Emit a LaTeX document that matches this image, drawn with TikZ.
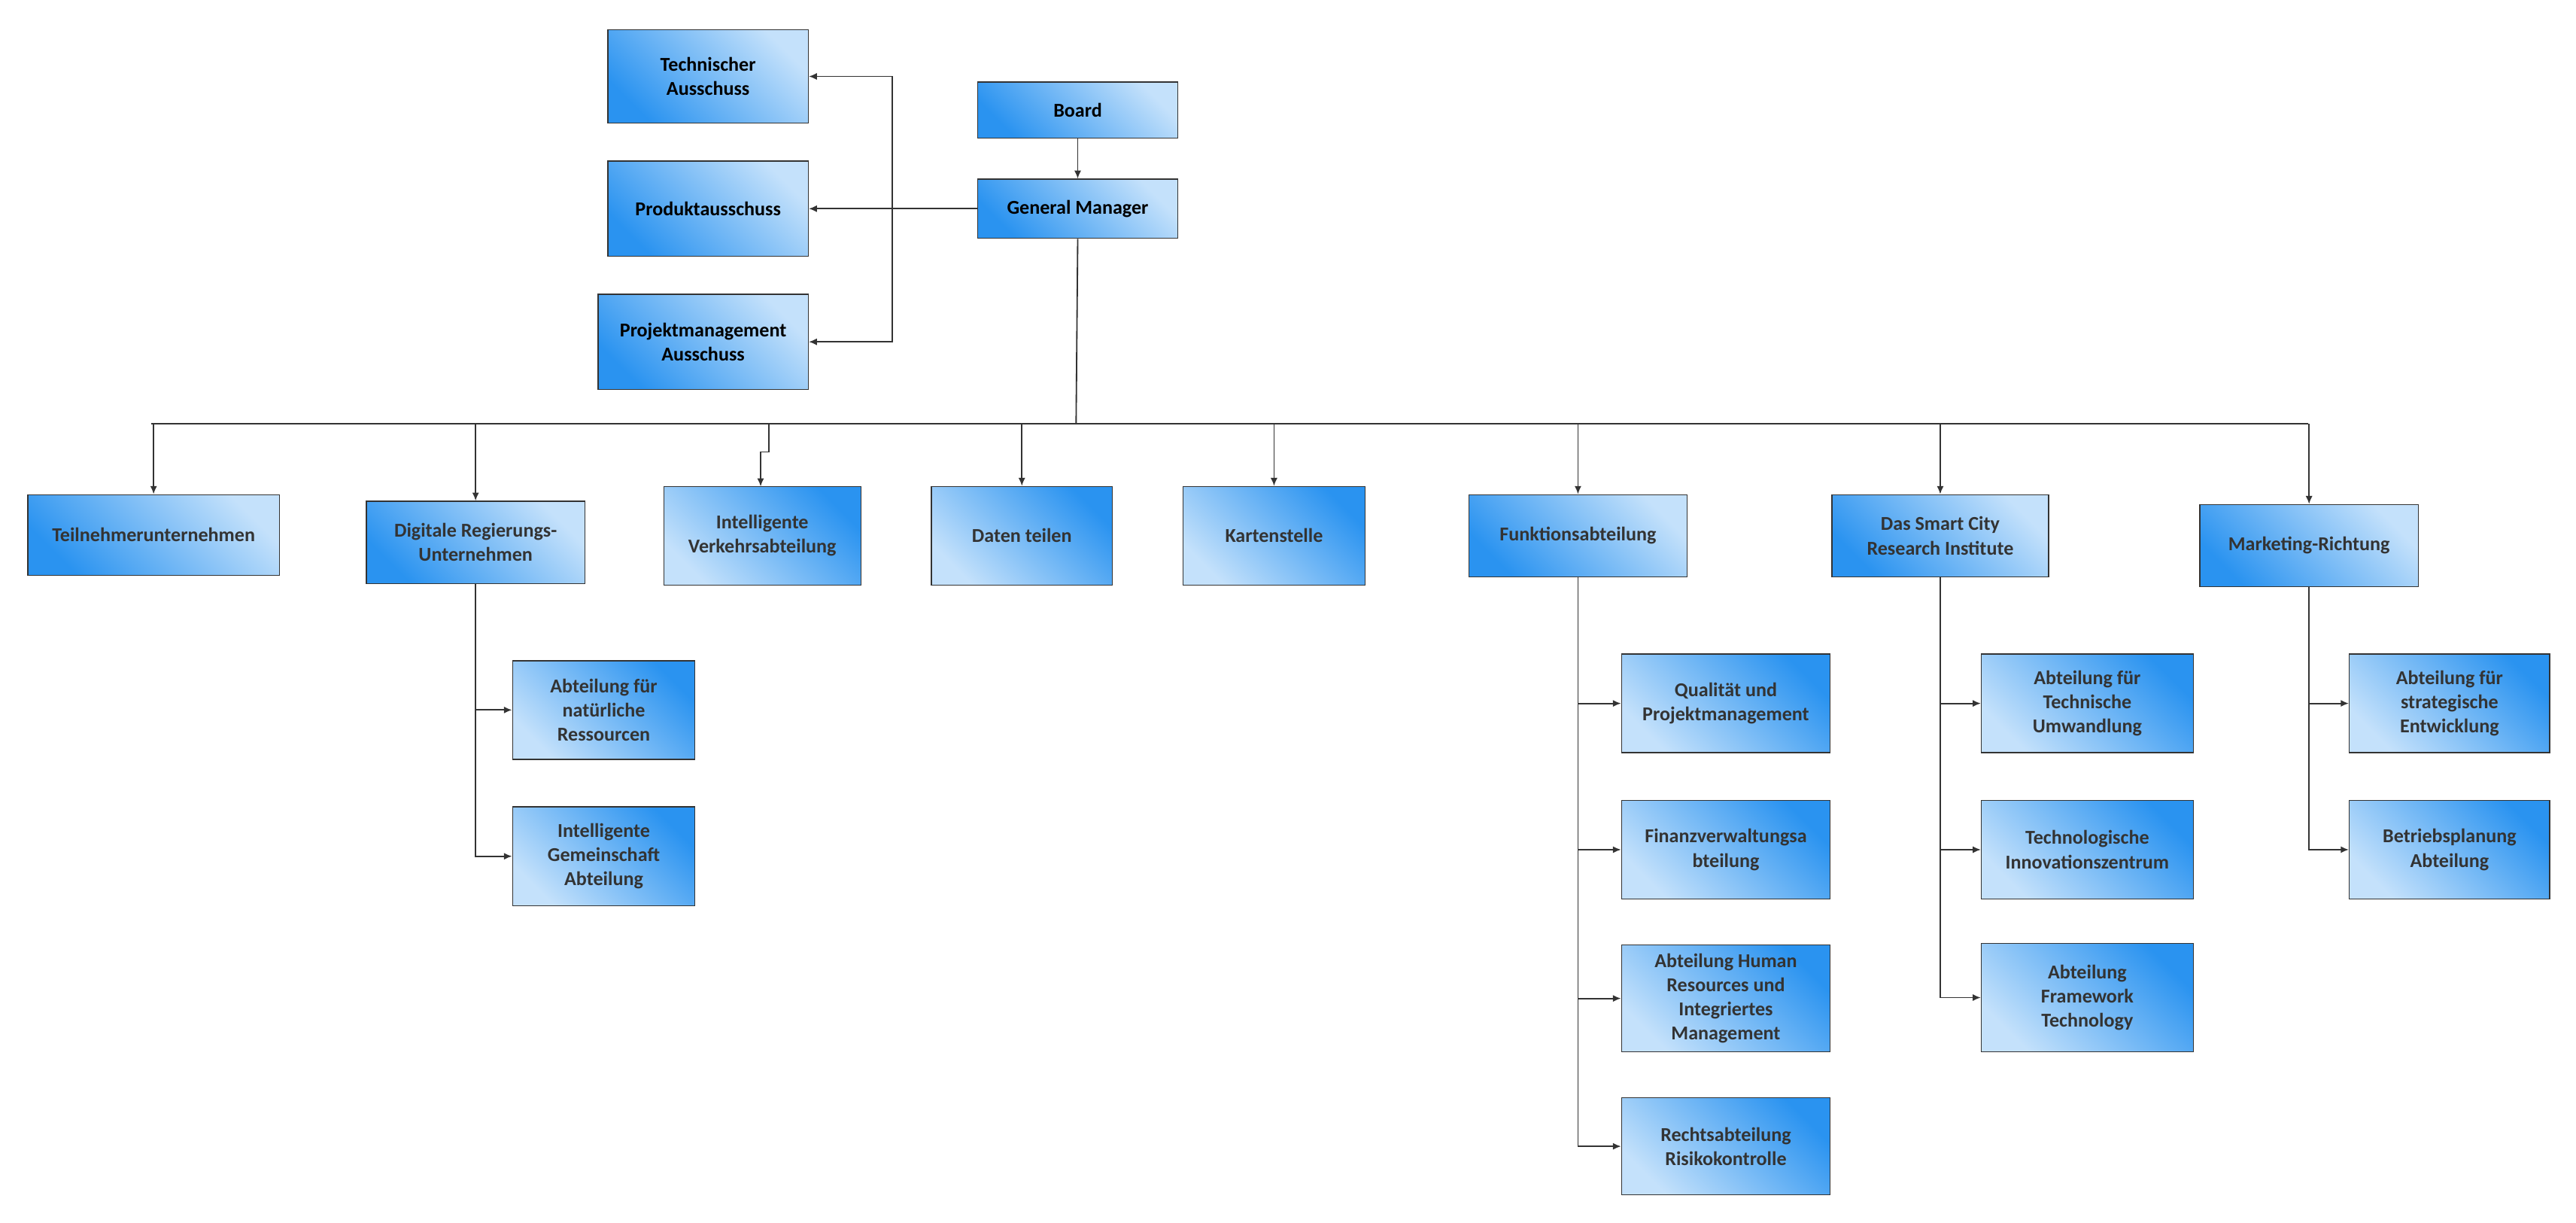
\documentclass[tikz,border=0pt]{standalone}
\usepackage{fontspec}
\setmainfont{Carlito}
\usetikzlibrary{arrows.meta}
\definecolor{dk}{HTML}{2A93F0}
\definecolor{lt}{HTML}{C4E1FB}
\definecolor{ln}{HTML}{333333}
\tikzset{
 x=0.05cm,y=-0.05cm,
 box/.style={draw=ln,line width=0.9pt,inner sep=2pt,align=center,text=ln,
   font=\fontsize{17}{21}\selectfont\bfseries},
 dbox/.style={box,top color=lt,bottom color=dk,shading angle=-45},
 lbox/.style={box,top color=dk,bottom color=lt,shading angle=-45},
 conn/.style={draw=ln,line width=1.2pt},
 arr/.style={conn,-{Latex[length=7pt,width=6pt]}},
}
\newcommand{\bx}[7]{\node[#1,minimum width={(#5-#3)*0.05cm},minimum height={(#6-#4)*0.05cm}] (#2) at ({(#3+#5)/2},{(#4+#6)/2}) {#7};}
\begin{document}
\begin{tikzpicture}
\useasboundingbox (0,0) rectangle (1568,744);
\bx{dbox,text=black}{tech}{370}{18}{492}{75}{Technischer\\Ausschuss}
\bx{dbox,text=black}{prod}{370}{98}{492}{156}{Produktausschuss}
\bx{dbox,text=black}{proj}{364}{179}{492}{237}{Projektmanagement\\Ausschuss}
\bx{dbox,text=black}{board}{595}{50}{717}{84}{Board}
\bx{dbox,text=black}{gm}{595}{109}{717}{145}{General Manager}
\bx{dbox}{teil}{17}{301}{170}{350}{Teilnehmerunternehmen}
\bx{dbox}{dig}{223}{305}{356}{355}{Digitale Regierungs-\\Unternehmen}
\bx{lbox}{verk}{404}{296}{524}{356}{Intelligente\\Verkehrsabteilung}
\bx{lbox}{dat}{567}{296}{677}{356}{Daten teilen}
\bx{lbox}{kart}{720}{296}{831}{356}{Kartenstelle}
\bx{dbox}{funk}{894}{301}{1027}{351}{Funktionsabteilung}
\bx{dbox}{smart}{1115}{301}{1247}{351}{Das Smart City\\Research Institute}
\bx{dbox}{mark}{1339}{307}{1472}{357}{Marketing-Richtung}
\bx{lbox}{nat}{312}{402}{423}{462}{Abteilung für\\natürliche\\Ressourcen}
\bx{lbox}{gem}{312}{491}{423}{551}{Intelligente\\Gemeinschaft\\Abteilung}
\bx{lbox}{qual}{987}{398}{1114}{458}{Qualität und\\Projektmanagement}
\bx{lbox}{fin}{987}{487}{1114}{547}{Finanzverwaltungsa\\bteilung}
\bx{lbox}{hr}{987}{575}{1114}{640}{Abteilung Human\\Resources und\\Integriertes\\Management}
\bx{lbox}{recht}{987}{668}{1114}{727}{Rechtsabteilung\\Risikokontrolle}
\bx{lbox}{tu}{1206}{398}{1335}{458}{Abteilung für\\Technische\\Umwandlung}
\bx{lbox}{tiz}{1206}{487}{1335}{547}{Technologische\\Innovationszentrum}
\bx{lbox}{fw}{1206}{574}{1335}{640}{Abteilung\\Framework\\Technology}
\bx{lbox}{str}{1430}{398}{1552}{458}{Abteilung für\\strategische\\Entwicklung}
\bx{lbox}{bp}{1430}{487}{1552}{547}{Betriebsplanung\\Abteilung}
% top
\draw[arr] (board) -- (gm);
\draw[arr] (gm.west) -- (prod.east);
\coordinate (j) at (543,127);
\draw[arr] (j) |- (tech.east);
\draw[arr] (j) |- (proj.east);
% bus
\coordinate (bus) at (655,258);
\draw[conn] (gm.south) -- (bus);
\draw[conn] (92,258) -- (1405,258);
\draw[arr] (teil.north|-bus) -- (teil.north);
\draw[arr] (dig.north|-bus) -- (dig.north);
\draw[arr] (468,258) -- (468,275) -- (463,275) -- (463,296);
\draw[arr] (dat.north|-bus) -- (dat.north);
\draw[arr] (kart.north|-bus) -- (kart.north);
\draw[arr] (funk.north|-bus) -- (funk.north);
\draw[arr] (smart.north|-bus) -- (smart.north);
\draw[arr] (mark.north|-bus) -- (mark.north);
% children
\foreach \p/\c in {dig/nat,dig/gem,funk/qual,funk/fin,funk/hr,funk/recht,smart/tu,smart/tiz,smart/fw,mark/str,mark/bp}
  \draw[arr] (\p.south) |- (\c.west);
\end{tikzpicture}
\end{document}
